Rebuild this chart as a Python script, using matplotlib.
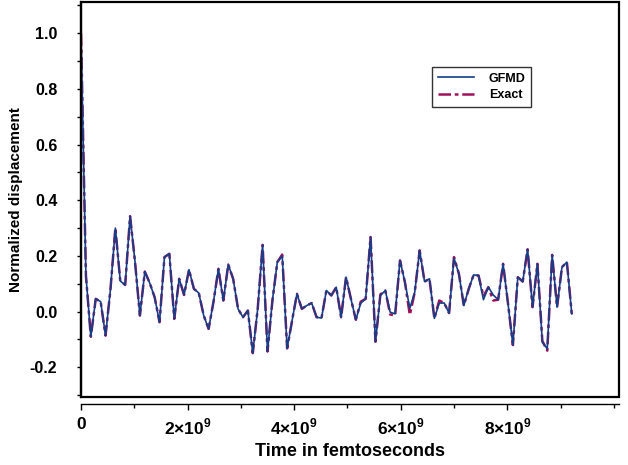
import numpy as np
import matplotlib
matplotlib.use('Agg')
import matplotlib.pyplot as plt
from matplotlib.patches import Rectangle
from matplotlib.ticker import MultipleLocator

plt.rcParams['font.family'] = ['Liberation Sans', 'DejaVu Sans']
plt.rcParams['font.weight'] = 'bold'
plt.rcParams['mathtext.fontset'] = 'custom'
plt.rcParams['mathtext.rm'] = 'Liberation Sans:bold'
plt.rcParams['mathtext.bf'] = 'Liberation Sans:bold'
plt.rcParams['axes.unicode_minus'] = False

#-------------------------------------------------------------------------------
# data
#-------------------------------------------------------------------------------
dt = 0.0921e9   # sampling interval in fs

gfmd = [1.00, 0.13, -0.090, 0.046, 0.036, -0.086, 0.080, 0.300, 0.110, 0.096,
        0.343, 0.180, -0.014, 0.144, 0.103, 0.052, -0.038, 0.196, 0.208, -0.026,
        0.118, 0.060, 0.151, 0.082, 0.067, -0.014, -0.062, 0.036, 0.154, 0.040,
        0.169, 0.118, 0.010, -0.020, 0.004, -0.149, 0.010, 0.240, -0.143, 0.040,
        0.178, 0.200, -0.132, -0.033, 0.064, 0.010, 0.022, 0.031, -0.020, -0.023,
        0.076, 0.058, 0.088, -0.020, 0.124, 0.046, -0.029, 0.031, 0.046, 0.268,
        -0.108, 0.058, 0.076, -0.002, -0.008, 0.184, 0.106, 0.012, 0.070, 0.220,
        0.108, 0.118, -0.024, 0.031, 0.031, -0.005, 0.192, 0.136, 0.022, 0.082,
        0.132, 0.130, 0.043, 0.088, 0.060, 0.043, 0.172, 0.030, -0.120, 0.124,
        0.108, 0.224, 0.016, 0.172, -0.110, -0.133, 0.204, 0.016, 0.160, 0.178,
        -0.008]

exact = [1.00, 0.13, -0.090, 0.046, 0.036, -0.086, 0.080, 0.300, 0.110, 0.096,
         0.343, 0.180, -0.014, 0.144, 0.103, 0.052, -0.038, 0.196, 0.208, -0.026,
         0.118, 0.060, 0.151, 0.082, 0.067, -0.014, -0.062, 0.036, 0.154, 0.040,
         0.169, 0.118, 0.010, -0.020, 0.004, -0.149, 0.010, 0.240, -0.143, 0.040,
         0.178, 0.205, -0.132, -0.033, 0.064, 0.010, 0.022, 0.031, -0.020, -0.023,
         0.076, 0.058, 0.088, -0.020, 0.124, 0.046, -0.029, 0.036, 0.046, 0.268,
         -0.108, 0.062, 0.076, -0.010, -0.014, 0.184, 0.106, -0.012, 0.070, 0.220,
         0.108, 0.118, -0.024, 0.040, 0.031, -0.005, 0.196, 0.136, 0.022, 0.082,
         0.132, 0.130, 0.055, 0.088, 0.040, 0.043, 0.172, 0.030, -0.120, 0.124,
         0.108, 0.224, 0.016, 0.172, -0.105, -0.140, 0.204, 0.016, 0.160, 0.178,
         -0.008]

x_ticks = [0, 2e9, 4e9, 6e9, 8e9]
x_labels = ['0', r'$2{\times}10^{9}$', r'$4{\times}10^{9}$',
            r'$6{\times}10^{9}$', r'$8{\times}10^{9}$']
y_ticks = [-0.2, 0.0, 0.2, 0.4, 0.6, 0.8, 1.0]
y_labels = ['-0.2', '0.0', '0.2', '0.4', '0.6', '0.8', '1.0']

t = np.arange(len(gfmd)) * dt

#-------------------------------------------------------------------------------
# plot
#-------------------------------------------------------------------------------
fig = plt.figure(figsize=(6.28, 4.65), dpi=100)
ax = fig.add_axes([0.129, 0.146, 0.857, 0.850])

ax.plot(t, exact, color='#a0105a', lw=1.8, ls=(0, (5, 1.5, 1.5, 1.5)),
        label='Exact', zorder=2)
ax.plot(t, gfmd, color='#123f88', lw=1.2, label='GFMD', zorder=3)

ax.set_xlim(0, 10.1e9)
ax.set_ylim(-0.307, 1.113)

ax.set_xticks(x_ticks)
ax.set_xticklabels(x_labels)
ax.xaxis.set_minor_locator(MultipleLocator(1e9))
ax.set_yticks(y_ticks)
ax.set_yticklabels(y_labels)
ax.yaxis.set_minor_locator(MultipleLocator(0.1))

ax.tick_params(axis='both', which='both', direction='out', width=1.0)
ax.tick_params(axis='x', which='major', length=4, pad=5, labelsize=12.5)
ax.tick_params(axis='x', which='minor', length=3)
ax.tick_params(axis='y', which='major', length=3, pad=14, labelsize=11.5)
ax.tick_params(axis='y', which='minor', length=3)

# frame drawn as a box, axes lines pushed out a little
for s in ['top', 'right']:
    ax.spines[s].set_visible(False)
ax.spines['bottom'].set_position(('outward', 5))
ax.spines['bottom'].set_linewidth(1.0)
ax.spines['left'].set_linewidth(1.6)
ax.add_patch(Rectangle((0, 0), 1, 1, transform=ax.transAxes, fill=False,
                       lw=1.6, ec='black', clip_on=False, zorder=5))

ax.set_xlabel('Time in femtoseconds', fontsize=13, fontweight='bold',
              labelpad=4)
ax.set_ylabel('Normalized displacement', fontsize=11, fontweight='bold',
              labelpad=5)

handles, labels = ax.get_legend_handles_labels()
leg = ax.legend(handles[::-1], labels[::-1], loc='upper left',
                bbox_to_anchor=(0.652, 0.835), fontsize=9, frameon=True,
                fancybox=False, handlelength=2.9, handletextpad=1.2,
                borderpad=0.45, labelspacing=0.35, borderaxespad=0)
leg.get_frame().set_edgecolor('black')
leg.get_frame().set_linewidth(1.0)
for txt in leg.get_texts():
    txt.set_fontweight('bold')

fig.savefig('out.png', dpi=100)
plt.close()
